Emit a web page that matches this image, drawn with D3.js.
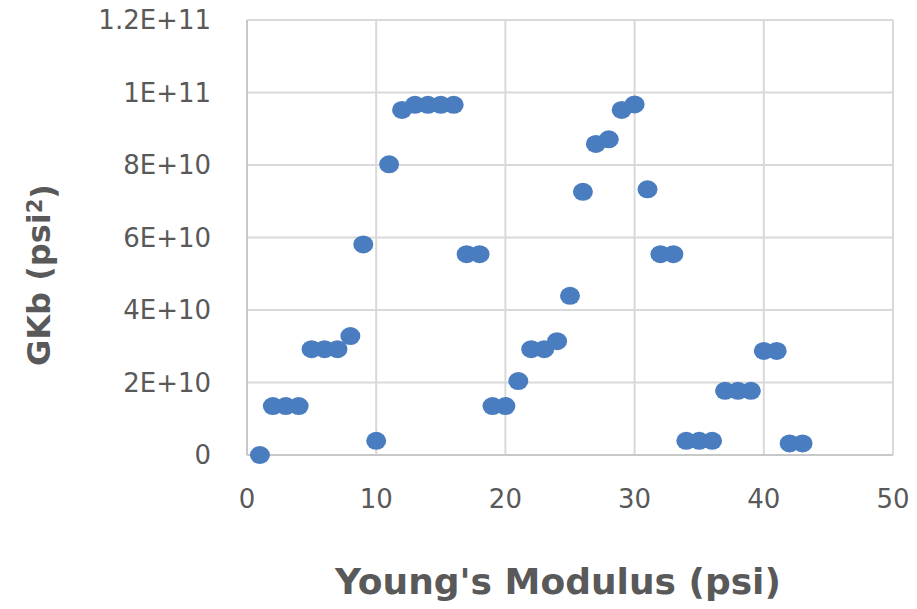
<!DOCTYPE html>
<html>
<head>
<meta charset="utf-8">
<script src="https://cdn.jsdelivr.net/npm/d3@7"></script>
<style>
  body { margin: 0; background: #fff; }
  text { font-family: "DejaVu Sans", sans-serif; fill: #595959; }
</style>
</head>
<body>
<svg width="917" height="609"></svg>
<script>
var svg = d3.select("svg"),
    width = +svg.attr("width"),
    height = +svg.attr("height");

// Young's modulus (psi) vs GKb (psi^2)
var modulus = [1, 2, 3, 4, 5, 6, 7, 8, 9, 10, 11, 12, 13, 14, 15, 16, 17, 18, 19, 20, 21, 22,
               23, 24, 25, 26, 27, 28, 29, 30, 31, 32, 33, 34, 35, 36, 37, 38, 39, 40, 41, 42, 43];
var gkb = [0, 1.35e10, 1.35e10, 1.35e10, 2.92e10, 2.92e10, 2.92e10, 3.28e10, 5.81e10, 3.9e9,
           8.02e10, 9.52e10, 9.66e10, 9.66e10, 9.66e10, 9.66e10, 5.54e10, 5.54e10, 1.35e10, 1.35e10,
           2.04e10, 2.92e10, 2.92e10, 3.14e10, 4.39e10, 7.26e10, 8.58e10, 8.71e10, 9.52e10, 9.67e10,
           7.33e10, 5.54e10, 5.54e10, 3.9e9, 3.9e9, 3.9e9, 1.77e10, 1.77e10, 1.77e10, 2.87e10,
           2.87e10, 3.2e9, 3.2e9];

var xTicks = [0, 10, 20, 30, 40, 50];
var yTicks = [0, 2e10, 4e10, 6e10, 8e10, 1e11, 1.2e11];
var yTickLabels = ["0", "2E+10", "4E+10", "6E+10", "8E+10", "1E+11", "1.2E+11"];

var x = d3.scaleLinear().domain([0, 50]).range([247, 893]);
var y = d3.scaleLinear().domain([0, 1.2e11]).range([455, 20]);

var grid = svg.append("g");

grid.selectAll(".vgrid")
    .data(xTicks.slice(1))
  .enter().append("line")
    .attr("x1", function(d) { return x(d); })
    .attr("x2", function(d) { return x(d); })
    .attr("y1", y(0))
    .attr("y2", y(1.2e11))
    .attr("stroke", "#d9d9d9")
    .attr("stroke-width", 2);

grid.selectAll(".hgrid")
    .data(yTicks.slice(1))
  .enter().append("line")
    .attr("x1", x(0))
    .attr("x2", x(50))
    .attr("y1", function(d) { return y(d); })
    .attr("y2", function(d) { return y(d); })
    .attr("stroke", "#d9d9d9")
    .attr("stroke-width", 2);

// axis lines
svg.append("line")
    .attr("x1", x(0)).attr("x2", x(50))
    .attr("y1", y(0)).attr("y2", y(0))
    .attr("stroke", "#c8c8c8").attr("stroke-width", 2);
svg.append("line")
    .attr("x1", x(0)).attr("x2", x(0))
    .attr("y1", y(0)).attr("y2", y(1.2e11))
    .attr("stroke", "#c8c8c8").attr("stroke-width", 2);

svg.selectAll(".ylab")
    .data(yTicks)
  .enter().append("text")
    .attr("x", 211)
    .attr("y", function(d) { return y(d); })
    .attr("dy", "0.36em")
    .attr("text-anchor", "end")
    .style("font-size", "26px")
    .text(function(d, i) { return yTickLabels[i]; });

svg.selectAll(".xlab")
    .data(xTicks)
  .enter().append("text")
    .attr("x", function(d) { return x(d); })
    .attr("y", 499)
    .attr("dy", "0.36em")
    .attr("text-anchor", "middle")
    .style("font-size", "26px")
    .text(function(d) { return d; });

svg.append("g").selectAll("ellipse")
    .data(modulus)
  .enter().append("ellipse")
    .attr("cx", function(d) { return x(d); })
    .attr("cy", function(d, i) { return y(gkb[i]); })
    .attr("rx", 10)
    .attr("ry", 9)
    .attr("fill", "#4a7dbf");

svg.append("text")
    .attr("x", 558)
    .attr("y", 594)
    .attr("text-anchor", "middle")
    .style("font-size", "36px")
    .style("font-weight", "bold")
    .text("Young's Modulus (psi)");

var yt = svg.append("text")
    .attr("transform", "translate(50,275) rotate(-90)")
    .attr("text-anchor", "middle")
    .style("font-size", "32px")
    .style("font-weight", "bold");
yt.append("tspan").text("GKb (psi");
yt.append("tspan").attr("dy", "-0.4em").style("font-size", "21px").text("2");
yt.append("tspan").attr("dy", "0.4em").text(")");
</script>
</body>
</html>
